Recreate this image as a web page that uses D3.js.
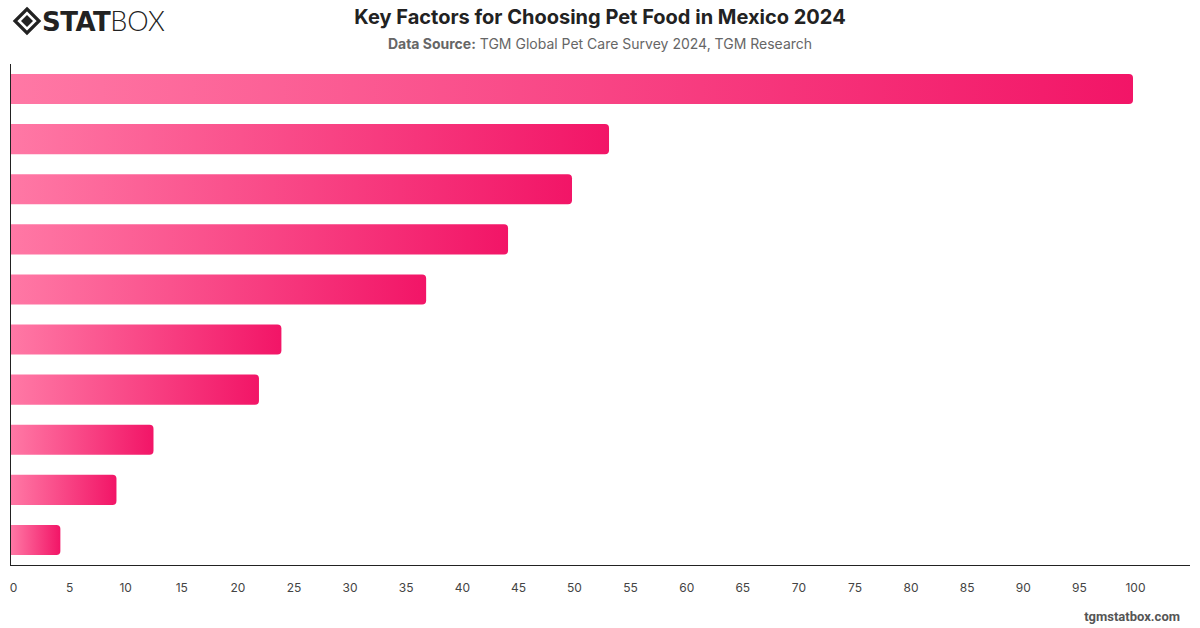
<!DOCTYPE html>
<html><head><meta charset="utf-8">
<script src="https://cdn.jsdelivr.net/npm/d3@7"></script>
<style>
html,body{margin:0;padding:0;background:#fff;}
svg{display:block;font-family:Inter,"Helvetica Neue",Arial,sans-serif;}
</style></head>
<body>
<svg id="chart" width="1200" height="628"></svg>
<script>
const categories = ["Factor 1","Factor 2","Factor 3","Factor 4","Factor 5","Factor 6","Factor 7","Factor 8","Factor 9","Factor 10"];
const values = [100, 53.3, 50.0, 44.3, 37.0, 24.1, 22.1, 12.7, 9.4, 4.4];
const tickValues = [0,5,10,15,20,25,30,35,40,45,50,55,60,65,70,75,80,85,90,95,100];
const title = "Key Factors for Choosing Pet Food in Mexico 2024";
const sourceLabel = "Data Source:";
const sourceText = " TGM Global Pet Care Survey 2024, TGM Research";
const footer = "tgmstatbox.com";

const svg = d3.select("#chart");
const W = 1200, H = 628;
const m = {left: 11, right: 10, top: 64, bottom: 63};

const x = d3.scaleLinear().domain([0, 100]).range([m.left, 1133]);
const y = d3.scaleBand().domain(categories).range([m.top, H - m.bottom]).paddingInner(0.4).paddingOuter(0.2);

const defs = svg.append("defs");
const grad = defs.append("linearGradient").attr("id", "barGrad")
  .attr("x1", "0%").attr("x2", "100%").attr("y1", "0%").attr("y2", "0%");
grad.append("stop").attr("offset", "0%").attr("stop-color", "#ff78a5");
grad.append("stop").attr("offset", "100%").attr("stop-color", "#f21567");

// Title
svg.append("text").attr("x", 600).attr("y", 24).attr("text-anchor", "middle")
  .attr("font-size", 20).attr("font-weight", 700).attr("fill", "#222").text(title);
const sub = svg.append("text").attr("x", 600).attr("y", 49).attr("text-anchor", "middle")
  .attr("font-size", 14).attr("fill", "#666");
sub.append("tspan").attr("font-weight", 700).text(sourceLabel);
sub.append("tspan").text(sourceText);

// Logo
const logo = svg.append("g").attr("transform", "translate(27,21)");
logo.append("path").attr("d", "M0,-12 L12,0 L0,12 L-12,0 Z").attr("fill", "none").attr("stroke", "#222").attr("stroke-width", 3.2);
logo.append("path").attr("d", "M0,-6 L6,0 L0,6 L-6,0 Z").attr("fill", "#222");
const lt = svg.append("text").attr("x", 42).attr("y", 31).attr("font-size", 26).attr("fill", "#222")
  .attr("font-family", "'DejaVu Sans', Arial, sans-serif");
lt.append("tspan").attr("font-weight", 900).attr("letter-spacing", -0.5).text("STAT");
lt.append("tspan").attr("font-weight", 300).attr("font-family", "Lato, 'Open Sans', sans-serif").attr("font-size", 27).text("BOX");

// Bars
const r = 4;
function barPath(x0, x1, y0, h) {
  const w = x1 - x0;
  const rr = Math.min(r, w / 2, h / 2);
  return `M${x0},${y0} H${x1 - rr} Q${x1},${y0} ${x1},${y0 + rr} V${y0 + h - rr} Q${x1},${y0 + h} ${x1 - rr},${y0 + h} H${x0} Z`;
}
svg.append("g").selectAll("path").data(values).join("path")
  .attr("d", (d, i) => barPath(x(0), x(d), y(categories[i]), y.bandwidth()))
  .attr("fill", "url(#barGrad)");

// Axes
svg.append("line").attr("x1", 10.5).attr("x2", 10.5).attr("y1", m.top).attr("y2", H - m.bottom + 0.5)
  .attr("stroke", "#222").attr("stroke-width", 1);
svg.append("line").attr("x1", 10).attr("x2", 1190).attr("y1", H - m.bottom + 0.5).attr("y2", H - m.bottom + 0.5)
  .attr("stroke", "#222").attr("stroke-width", 1);

const xAxis = d3.axisBottom(x).tickValues(tickValues).tickSize(0).tickPadding(0).tickFormat(d3.format("d"));
const ax = svg.append("g").attr("transform", `translate(2,${H - m.bottom})`).call(xAxis);
ax.select(".domain").remove();
ax.selectAll("text").attr("dy", 0).attr("y", 27).attr("font-size", 12)
  .attr("font-family", "Inter, 'Helvetica Neue', Arial, sans-serif").attr("fill", "#444");

// Footer
svg.append("text").attr("x", 1180).attr("y", 621).attr("text-anchor", "end")
  .attr("font-size", 13).attr("font-weight", 700).attr("fill", "#555")
  .attr("font-family", "Roboto, Arial, sans-serif").text(footer);
</script>
</body></html>
